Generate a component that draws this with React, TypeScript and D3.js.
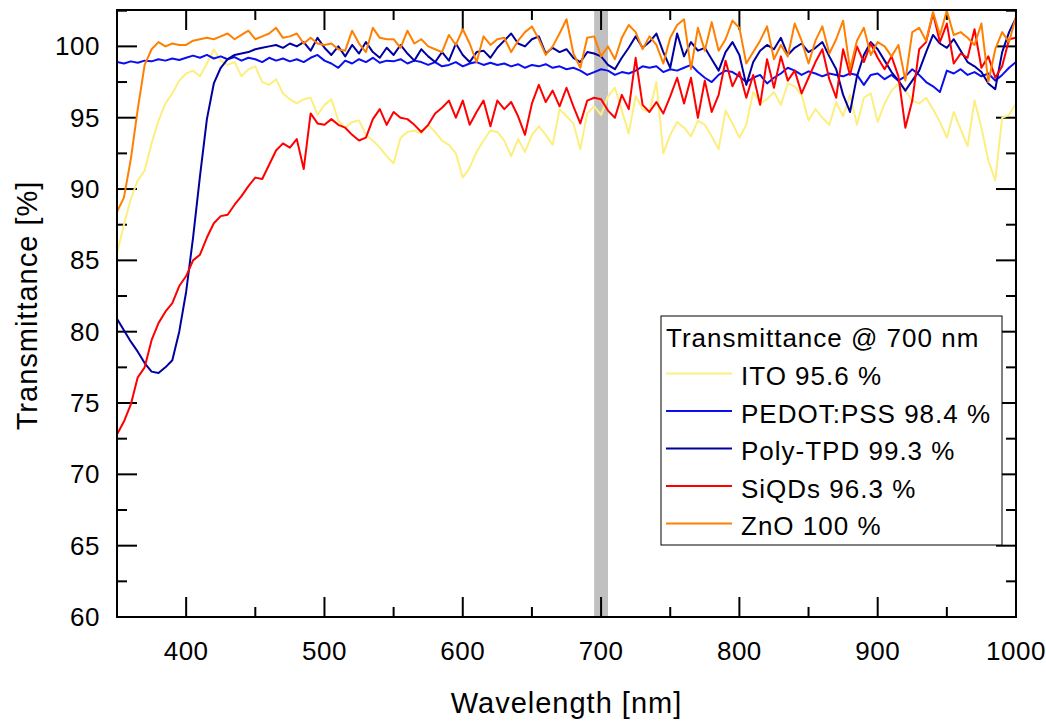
import React from 'react';
import * as d3 from 'd3';

const wlStart = 350;
const wlEnd = 1000;
const wlStep = 5;
const wavelengths: number[] = d3.range(wlStart, wlEnd + 1, wlStep);

const ito = [
  85.5, 87.5, 89.3, 90.6, 91.3, 93.2, 94.8, 96.0, 96.7, 97.6,
  98.1, 98.3, 97.9, 98.8, 99.8, 99.0, 98.7, 98.9, 97.9, 98.4,
  98.6, 97.5, 97.3, 97.7, 96.7, 96.3, 96.0, 96.3, 96.4, 95.2,
  95.9, 96.3, 94.8, 94.3, 94.7, 94.8, 93.8, 93.4, 92.9, 92.3,
  91.8, 93.6, 94.0, 94.1, 93.9, 94.5, 94.0, 93.4, 93.1, 92.5,
  90.8, 91.5, 92.6, 93.4, 94.1, 94.0, 93.4, 92.3, 93.5, 92.6,
  93.8, 94.4, 93.8, 93.1, 95.6, 95.1, 94.6, 92.8, 95.3, 95.8,
  95.2, 96.5, 97.1, 95.5, 93.9, 96.5, 95.6, 95.4, 97.5, 92.5,
  93.8, 94.7, 94.3, 93.7, 94.8, 94.5, 93.7, 92.8, 95.5, 94.6,
  93.6, 94.5, 96.8, 96.0, 96.3, 96.8, 95.9, 97.4, 97.2, 96.6,
  94.8, 95.6, 95.0, 94.5, 96.1, 95.1, 96.6, 94.5, 96.4, 96.7,
  94.7, 96.0, 96.9, 97.4, 96.9, 96.2, 96.0, 96.4, 95.6, 94.7,
  93.6, 95.4, 94.2, 93.0, 96.2, 94.3, 92.0, 90.6, 95.0, 95.2,
  96.0,
];

const pedot = [
  98.9, 98.8, 98.95, 98.85, 99.0, 98.95, 99.1, 99.0, 99.15, 99.05,
  99.2, 99.35, 99.2, 99.4, 99.15, 99.3, 99.1, 99.25, 99.0, 99.2,
  99.1, 98.9, 99.2, 99.0, 99.15, 98.95, 99.1, 98.9, 99.2, 99.4,
  99.0, 98.8, 98.5, 99.0, 98.8, 99.1, 98.9, 99.2, 98.85, 99.0,
  98.95, 99.1, 98.8, 99.0, 98.9, 98.7, 98.9, 98.6, 98.7, 98.9,
  98.6, 98.8, 98.9, 98.7, 98.85, 98.7, 98.8, 98.6, 98.75, 98.5,
  98.7, 98.6, 98.75, 98.5, 98.6, 98.4, 98.5, 98.3, 98.0, 98.2,
  98.4, 98.3, 98.0, 98.2, 98.1, 98.3, 98.6, 98.5, 98.6, 98.2,
  98.4, 98.3, 98.5, 98.7, 98.2, 97.8, 97.5, 98.0, 98.3, 98.2,
  97.9, 97.5, 97.8, 98.0, 97.4, 97.8, 98.1, 98.5, 98.3, 98.0,
  98.25, 98.1, 97.9, 98.1, 98.0, 97.9, 98.1, 98.0, 97.3, 98.0,
  98.1, 97.7, 98.0, 97.6, 97.9, 98.4, 98.0, 97.5, 97.2, 96.8,
  98.3, 98.1, 98.4, 98.0, 98.2, 97.9, 98.1, 97.6, 98.0, 98.5,
  98.9,
];

const polyTpd = [
  80.9, 80.1, 79.3, 78.6, 77.8, 77.2, 77.1, 77.5, 78.0, 80.0,
  82.8, 86.6, 90.9, 94.9, 97.4, 98.5, 99.1, 99.4, 99.5, 99.6,
  99.8, 99.9, 100.0, 100.1, 99.9, 100.2, 100.0, 100.3, 99.7, 100.6,
  99.9, 99.4, 100.0, 99.3, 100.1, 99.5, 100.3, 99.6, 99.2, 99.9,
  99.4, 100.1, 99.5, 99.0, 99.8, 99.3, 98.9, 99.6, 99.0, 100.2,
  99.4, 98.9, 99.6, 99.7, 99.2, 99.9, 100.4, 100.9, 100.2, 100.0,
  100.5, 100.7, 99.5, 99.9, 99.6, 99.8, 99.2, 98.9, 99.6, 99.5,
  99.3, 98.7, 98.4, 99.2, 99.9, 100.7, 99.9, 100.3, 100.9, 99.6,
  98.5, 100.9, 99.3, 100.3, 99.7, 99.9, 99.1, 98.3, 99.6, 100.3,
  99.4, 97.3, 98.9, 99.7, 100.1, 99.8, 100.6, 99.4, 99.9, 100.2,
  99.6, 99.9, 100.3, 99.3, 98.4, 96.6, 95.4, 97.9, 99.4, 100.3,
  99.8, 99.0, 98.2, 97.6, 96.9, 97.6, 98.3, 99.6, 100.8, 100.2,
  99.9, 100.5, 99.7, 98.9, 98.6, 98.2, 97.4, 97.0, 99.6, 101.0,
  102.0,
];

const siqds = [
  72.8, 73.7, 74.9, 76.8, 77.5, 79.4, 80.6, 81.4, 82.0, 83.2,
  83.9, 85.0, 85.4, 86.6, 87.6, 88.1, 88.2, 88.9, 89.5, 90.2,
  90.8, 90.7, 91.7, 92.7, 93.2, 92.9, 93.5, 91.4, 95.3, 94.6,
  94.5, 94.9, 94.5, 94.3, 93.8, 93.4, 93.6, 94.9, 95.6, 94.5,
  95.4, 95.0, 94.9, 94.5, 94.0, 94.5, 95.3, 95.7, 96.2, 95.0,
  96.2, 94.5, 95.4, 96.2, 94.4, 96.2, 95.6, 96.1, 95.1, 93.8,
  96.0, 97.3, 96.1, 96.9, 95.8, 97.1, 95.8, 94.6, 96.2, 96.4,
  96.3, 95.5, 95.0, 96.6, 95.6, 99.2, 95.9, 95.4, 96.1, 95.3,
  96.5, 97.8, 96.0, 97.8, 95.0, 97.6, 95.4, 96.6, 99.0, 97.2,
  98.2, 96.4, 98.0, 95.9, 99.1, 97.1, 99.3, 97.6, 98.3, 96.7,
  97.8, 98.9, 99.8, 97.7, 96.4, 99.8, 98.0, 100.0, 98.9, 100.2,
  99.2, 98.4, 99.3, 97.9, 94.3, 96.2, 99.8, 100.3, 102.3, 100.3,
  101.6, 98.8, 99.5, 99.2, 101.2, 98.5, 99.3, 97.8, 98.6, 100.5,
  100.6,
];

const zno = [
  88.4, 89.4, 92.1, 95.6, 98.7, 99.8, 100.3, 100.0, 100.2, 100.1,
  100.1, 100.4, 100.5, 100.6, 100.5, 100.7, 100.9, 100.5, 100.8, 101.1,
  100.5, 100.7, 100.9, 101.3, 100.6, 100.7, 100.9, 100.2, 100.6, 100.2,
  100.1, 100.2, 99.8, 99.7, 101.1, 100.2, 99.6, 101.3, 100.6, 100.5,
  100.5, 99.9, 101.1, 100.2, 100.5, 100.0, 99.8, 99.6, 100.8, 100.1,
  101.2, 100.2, 98.9, 100.7, 100.1, 100.5, 100.6, 99.6, 100.4, 101.0,
  101.4, 100.5, 99.4, 100.0, 100.9, 101.9, 99.5, 98.5, 100.6, 100.7,
  99.3, 100.0, 99.1, 100.6, 101.5, 101.0, 99.8, 100.7, 100.1, 98.8,
  100.6, 101.5, 101.9, 98.4, 101.3, 99.7, 101.7, 99.7, 100.5, 101.8,
  101.3, 98.8, 99.6, 100.4, 101.4, 99.1, 100.1, 99.3, 101.6, 100.4,
  98.8, 100.4, 101.4, 99.5, 100.5, 101.8, 98.4, 100.4, 101.3, 99.4,
  100.3, 100.0, 99.3, 100.1, 97.6, 101.0, 101.3, 100.4, 102.4, 100.8,
  102.5, 100.8, 101.0, 100.6, 100.1, 101.6, 97.5, 99.8, 101.0, 100.3,
  102.1,
];

const seriesNames = ['ITO', 'PEDOT:PSS', 'Poly-TPD', 'SiQDs', 'ZnO'];
const seriesValues = [ito, pedot, polyTpd, siqds, zno];
const seriesColors = ['#fdee80', '#0a0ff0', '#0000a0', '#ff0000', '#ff8000'];
const legendLabels = ['ITO 95.6 %', 'PEDOT:PSS 98.4 %', 'Poly-TPD 99.3 %', 'SiQDs 96.3 %', 'ZnO 100 %'];
const legendTitle = 'Transmittance @ 700 nm';

const xMajorTicks = [400, 500, 600, 700, 800, 900, 1000];
const xMinorTicks = [350, 450, 550, 650, 750, 850, 950];
const yMajorTicks = [60, 65, 70, 75, 80, 85, 90, 95, 100];
const yMinorTicks = [62.5, 67.5, 72.5, 77.5, 82.5, 87.5, 92.5, 97.5, 102.5];
const bandRange = [695, 705];

const W = 1046;
const H = 722;
const L = 117;
const R = 1016;
const T = 10;
const B = 617;
const FONT = "'Liberation Sans', Arial, Helvetica, sans-serif";

export default function App() {
  const x = d3.scaleLinear().domain([350, 1000]).range([L, R]);
  const y = d3.scaleLinear().domain([60, 102.55]).range([B, T]);
  const line = d3
    .line<number>()
    .x((_, i) => x(wavelengths[i]))
    .y((d) => y(d));

  const major = 20;
  const minor = 10;

  return (
    <svg
      width={W}
      height={H}
      style={{ position: 'absolute', left: 0, top: 0, background: '#fff' }}
      fontFamily={FONT}
    >
      <defs>
        <clipPath id="plotclip">
          <rect x={L} y={T} width={R - L} height={B - T} />
        </clipPath>
      </defs>
      <rect x={0} y={0} width={W} height={H} fill="#fff" />
      <rect
        x={x(bandRange[0])}
        y={T}
        width={x(bandRange[1]) - x(bandRange[0])}
        height={B - T}
        fill="#c0c0c0"
      />
      {/* ticks */}
      <g stroke="#000" strokeWidth={2}>
        {xMajorTicks.map((t) => (
          <g key={'xM' + t}>
            <line x1={x(t)} x2={x(t)} y1={B} y2={B - major} />
            <line x1={x(t)} x2={x(t)} y1={T} y2={T + major} />
          </g>
        ))}
        {xMinorTicks.map((t) => (
          <g key={'xm' + t}>
            <line x1={x(t)} x2={x(t)} y1={B} y2={B - minor} />
            <line x1={x(t)} x2={x(t)} y1={T} y2={T + minor} />
          </g>
        ))}
        {yMajorTicks.map((t) => (
          <g key={'yM' + t}>
            <line x1={L} x2={L + major} y1={y(t)} y2={y(t)} />
            <line x1={R} x2={R - major} y1={y(t)} y2={y(t)} />
          </g>
        ))}
        {yMinorTicks.map((t) => (
          <g key={'ym' + t}>
            <line x1={L} x2={L + minor} y1={y(t)} y2={y(t)} />
            <line x1={R} x2={R - minor} y1={y(t)} y2={y(t)} />
          </g>
        ))}
      </g>
      <g clipPath="url(#plotclip)">
        {seriesValues.map((vals, k) => (
          <path
            key={seriesNames[k]}
            d={line(vals) || ''}
            fill="none"
            stroke={seriesColors[k]}
            strokeWidth={2}
            strokeLinejoin="round"
          />
        ))}
      </g>
      <rect x={L} y={T} width={R - L} height={B - T} fill="none" stroke="#000" strokeWidth={2} />
      {/* tick labels */}
      <g fontSize={26} fill="#000" letterSpacing={0.5}>
        {xMajorTicks.map((t) => (
          <text key={'xl' + t} x={x(t)} y={660} textAnchor="middle">
            {t}
          </text>
        ))}
        {yMajorTicks.map((t) => (
          <text key={'yl' + t} x={100} y={y(t) + 9} textAnchor="end">
            {t}
          </text>
        ))}
      </g>
      <text x={(L + R) / 2} y={713} textAnchor="middle" fontSize={29} letterSpacing={1}>
        Wavelength [nm]
      </text>
      <text
        transform={`translate(37, ${(T + B) / 2 - 8}) rotate(-90)`}
        textAnchor="middle"
        fontSize={29}
        letterSpacing={1}
      >
        Transmittance [%]
      </text>
      {/* legend */}
      <g>
        <rect x={661} y={316} width={341} height={229} fill="#fff" stroke="#000" strokeWidth={1} />
        <text x={666} y={347} fontSize={26} letterSpacing={1}>
          {legendTitle}
        </text>
        {legendLabels.map((lab, k) => (
          <g key={lab}>
            <line
              x1={666}
              x2={732}
              y1={373.5 + k * 37.5}
              y2={373.5 + k * 37.5}
              stroke={seriesColors[k]}
              strokeWidth={2}
            />
            <text x={741} y={385 + k * 37.5} fontSize={26} letterSpacing={1}>
              {lab}
            </text>
          </g>
        ))}
      </g>
    </svg>
  );
}
